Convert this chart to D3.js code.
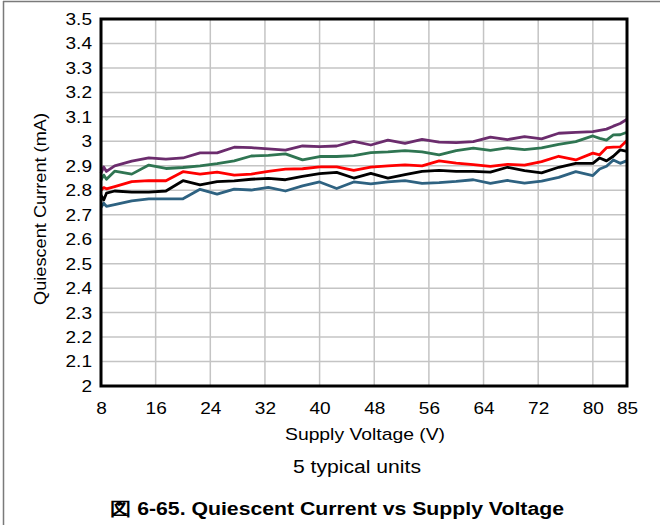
<!DOCTYPE html>
<html>
<head>
<meta charset="utf-8">
<script src="https://cdn.jsdelivr.net/npm/d3@7/dist/d3.min.js"></script>
<style>
  html, body { margin: 0; padding: 0; background: #fff; }
  svg { display: block; font-family: "Liberation Sans", Arial, sans-serif; }
</style>
</head>
<body>
<svg id="chart" width="660" height="525"></svg>
<script>
const voltages = [8, 8.4, 8.8, 10, 12.5, 15, 17.5, 20, 22.5, 25, 27.5, 30, 32.5, 35, 37.5, 40, 42.5, 45, 47.5, 50, 52.5, 55, 57.5, 60, 62.5, 65, 67.5, 70, 72.5, 75, 77.5, 80, 81, 82, 83, 84, 85];

const unitPurple = [2.870, 2.895, 2.877, 2.900, 2.919, 2.932, 2.927, 2.932, 2.953, 2.953, 2.976, 2.974, 2.969, 2.964, 2.981, 2.978, 2.981, 3.000, 2.985, 3.005, 2.992, 3.008, 2.997, 2.995, 2.999, 3.017, 3.007, 3.019, 3.010, 3.033, 3.037, 3.040, 3.045, 3.050, 3.062, 3.073, 3.090];
const unitGreen  = [2.842, 2.862, 2.845, 2.878, 2.866, 2.903, 2.889, 2.893, 2.900, 2.909, 2.920, 2.940, 2.943, 2.949, 2.924, 2.938, 2.938, 2.942, 2.954, 2.957, 2.962, 2.957, 2.945, 2.962, 2.972, 2.963, 2.973, 2.966, 2.973, 2.988, 2.999, 3.022, 3.012, 3.005, 3.026, 3.027, 3.037];
const unitRed    = [2.800, 2.811, 2.806, 2.815, 2.835, 2.839, 2.839, 2.876, 2.866, 2.874, 2.862, 2.866, 2.877, 2.886, 2.888, 2.896, 2.896, 2.881, 2.895, 2.900, 2.904, 2.900, 2.920, 2.911, 2.905, 2.898, 2.906, 2.903, 2.917, 2.939, 2.924, 2.952, 2.945, 2.974, 2.976, 2.977, 3.003];
const unitBlack  = [2.780, 2.760, 2.788, 2.797, 2.792, 2.792, 2.797, 2.839, 2.822, 2.835, 2.838, 2.845, 2.849, 2.843, 2.857, 2.868, 2.873, 2.850, 2.869, 2.850, 2.864, 2.877, 2.881, 2.877, 2.877, 2.874, 2.894, 2.880, 2.871, 2.894, 2.910, 2.910, 2.932, 2.920, 2.939, 2.965, 2.959];
const unitBlue   = [2.730, 2.747, 2.734, 2.741, 2.757, 2.765, 2.765, 2.765, 2.804, 2.784, 2.805, 2.801, 2.812, 2.797, 2.818, 2.834, 2.807, 2.834, 2.826, 2.834, 2.839, 2.828, 2.831, 2.836, 2.843, 2.828, 2.840, 2.829, 2.837, 2.853, 2.876, 2.860, 2.887, 2.898, 2.924, 2.910, 2.921];

const seriesNames = ["Unit 1", "Unit 2", "Unit 3", "Unit 4", "Unit 5"];
const seriesColors = ["#6b2c6d", "#2f7552", "#ff0000", "#000000", "#2e6281"];
const seriesValues = [unitPurple, unitGreen, unitRed, unitBlack, unitBlue];

const xTicks = [8, 16, 24, 32, 40, 48, 56, 64, 72, 80, 85];
const yTicks = [2, 2.1, 2.2, 2.3, 2.4, 2.5, 2.6, 2.7, 2.8, 2.9, 3, 3.1, 3.2, 3.3, 3.4, 3.5];

const xTitle = "Supply Voltage (V)";
const yTitle = "Quiescent Current (mA)";
const note = "5 typical units";
const caption = "図 6-65. Quiescent Current vs Supply Voltage";

const svg = d3.select("#chart");
const W = 660, H = 525;
const m = { left: 101, right: 627, top: 19, bottom: 386 };

// stretch helper: widen text horizontally to match the reference glyph widths
function stretch(sel, factor) {
  sel.each(function () {
    const w = this.getComputedTextLength();
    d3.select(this).attr("textLength", w * factor).attr("lengthAdjust", "spacingAndGlyphs");
  });
}
function fitTo(sel, width) {
  sel.attr("textLength", width).attr("lengthAdjust", "spacingAndGlyphs");
}

// outer frame (top & left)
svg.append("line").attr("x1", 3).attr("x2", W).attr("y1", 1.5).attr("y2", 1.5)
  .attr("stroke", "#7a7a7a").attr("stroke-width", 1.5);
svg.append("line").attr("x1", 3.5).attr("x2", 3.5).attr("y1", 1).attr("y2", H)
  .attr("stroke", "#7a7a7a").attr("stroke-width", 1.5);

const x = d3.scaleLinear().domain([8, 85]).range([m.left, m.right]);
const y = d3.scaleLinear().domain([2, 3.5]).range([m.bottom, m.top]);

// gridlines
const grid = svg.append("g");
grid.selectAll("line.h").data(yTicks).join("line")
  .attr("x1", m.left).attr("x2", m.right)
  .attr("y1", d => y(d)).attr("y2", d => y(d))
  .attr("stroke", "#c4c4c4").attr("stroke-width", 1.5);
grid.selectAll("line.v").data(xTicks).join("line")
  .attr("y1", m.top).attr("y2", m.bottom)
  .attr("x1", d => x(d)).attr("x2", d => x(d))
  .attr("stroke", "#c4c4c4").attr("stroke-width", 1.5);

// lines
const line = d3.line().x((d, i) => x(voltages[i])).y(d => y(d));
svg.append("g").selectAll("path").data(seriesValues).join("path")
  .attr("d", d => line(d))
  .attr("fill", "none")
  .attr("stroke", (d, i) => seriesColors[i])
  .attr("stroke-width", 2.8)
  .attr("stroke-linejoin", "round");

// frame
svg.append("rect").attr("x", m.left).attr("y", m.top)
  .attr("width", m.right - m.left).attr("height", m.bottom - m.top)
  .attr("fill", "none").attr("stroke", "#000").attr("stroke-width", 3);

// axes
const xAxis = d3.axisBottom(x).tickValues(xTicks).tickSize(0).tickPadding(16).tickFormat(d3.format("d"));
const gx = svg.append("g").attr("transform", `translate(0,${m.bottom})`).call(xAxis);
gx.select(".domain").remove();
gx.selectAll("text").attr("font-size", 17).attr("fill", "#000")
  .attr("font-family", "Liberation Sans, Arial, sans-serif");
stretch(gx.selectAll("text"), 1.12);

const yAxis = d3.axisLeft(y).tickValues(yTicks).tickSize(0).tickPadding(9)
  .tickFormat(d => d3.format("")(+d.toFixed(1)));
const gy = svg.append("g").attr("transform", `translate(${m.left},0)`).call(yAxis);
gy.select(".domain").remove();
gy.selectAll("text").attr("font-size", 17).attr("fill", "#000")
  .attr("font-family", "Liberation Sans, Arial, sans-serif");
stretch(gy.selectAll("text"), 1.12);

// titles
fitTo(svg.append("text").attr("x", 365).attr("y", 440)
  .attr("text-anchor", "middle").attr("font-size", 17).text(xTitle), 160);
fitTo(svg.append("text").attr("transform", `translate(46,209) rotate(-90)`)
  .attr("text-anchor", "middle").attr("font-size", 17).text(yTitle), 192);
fitTo(svg.append("text").attr("x", 357).attr("y", 473)
  .attr("text-anchor", "middle").attr("font-size", 18).text(note), 128);
fitTo(svg.append("text").attr("x", 337).attr("y", 515)
  .attr("text-anchor", "middle").attr("font-size", 18).attr("font-weight", "bold").text(caption), 454);
</script>
</body>
</html>
